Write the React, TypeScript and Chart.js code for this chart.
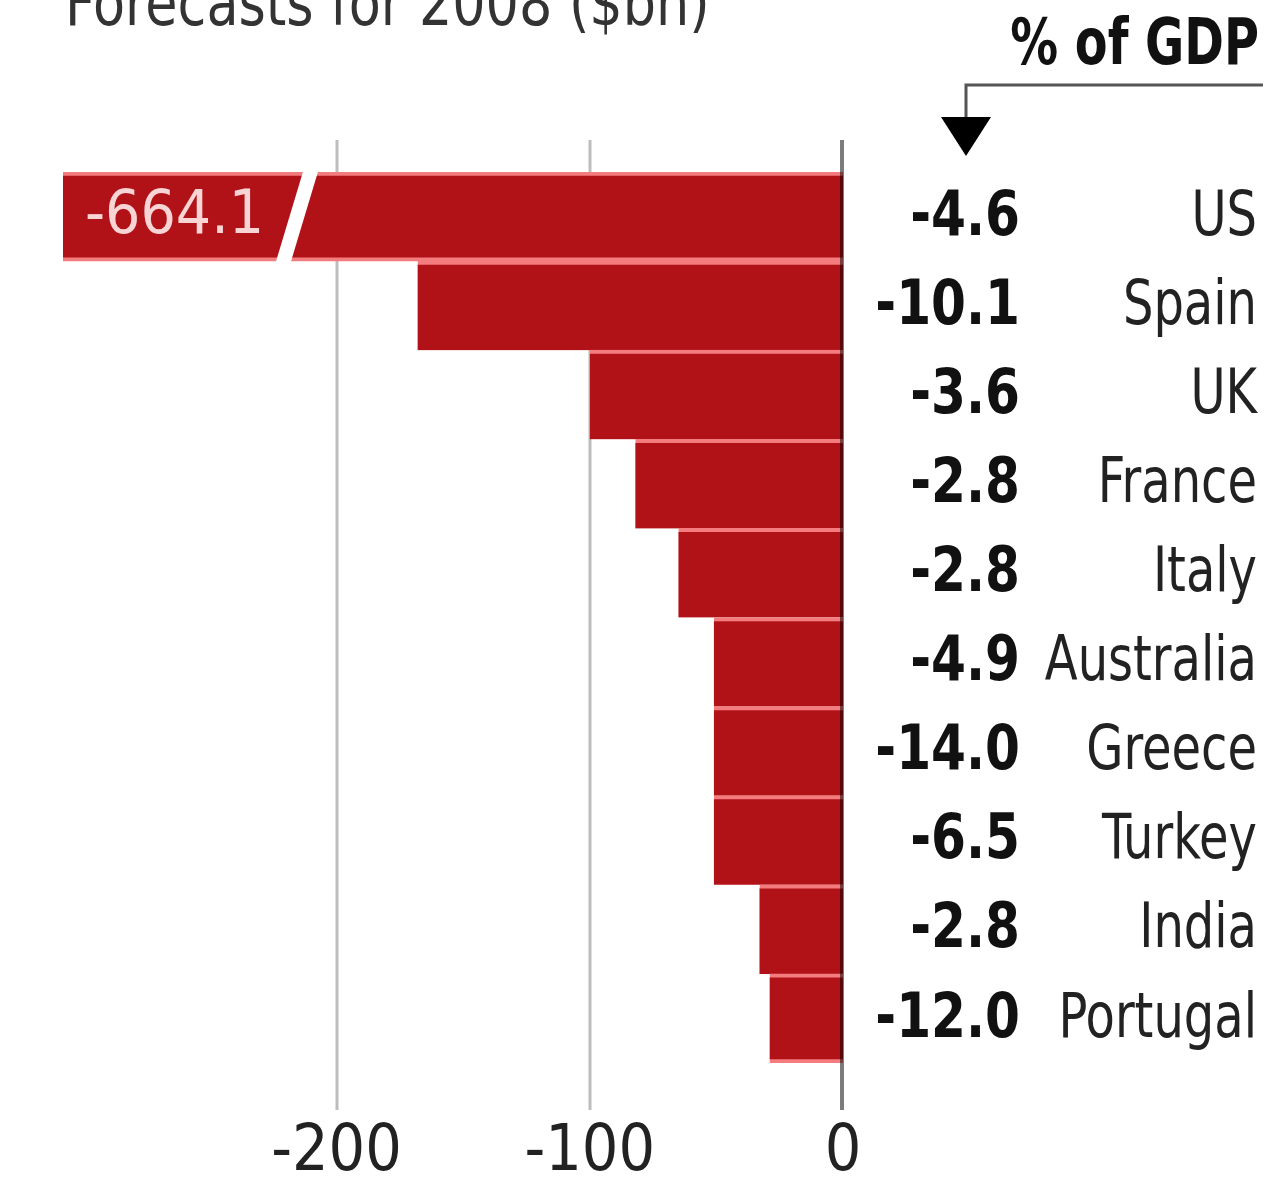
import React, { useEffect, useRef } from "react";
import { Chart, registerables } from "chart.js";

Chart.register(...registerables);

const title = "Forecasts for 2008 ($bn)";
const gdpHeader = "% of GDP";
const countries = ["US", "Spain", "UK", "France", "Italy", "Australia", "Greece", "Turkey", "India", "Portugal"];
const balance = [-664.1, -168, -100, -82, -65, -51, -51, -51, -33, -29];
const gdpPct = ["-4.6", "-10.1", "-3.6", "-2.8", "-2.8", "-4.9", "-14.0", "-6.5", "-2.8", "-12.0"];
const xTicks = [-200, -100, 0];
const axisMin = -308;
const axisMax = 0;
const breakAt = -215;
const brokenLabel = "-664.1";

const FONT = "'Liberation Sans Narrow', 'DejaVu Sans Condensed', 'Arial Narrow', sans-serif";
const BAR = "#b01218";
const SEP = "#f47c7e";

const W = 1265;
const H = 1178;

function squeezeText(ctx: any, text: string, x: number, y: number, align: string, sx: number) {
  ctx.save();
  ctx.translate(x, y);
  ctx.scale(sx, 1);
  ctx.textAlign = align;
  ctx.fillText(text, 0, 0);
  ctx.restore();
}

const overlay = {
  id: "overlay",
  beforeDatasetsDraw(chart: any) {
    const { ctx, chartArea } = chart;
    const x = chart.scales.x;
    ctx.save();
    ctx.strokeStyle = "#bdbdbd";
    ctx.lineWidth = 3;
    xTicks.forEach((v) => {
      if (v === 0) return;
      const px = Math.round(x.getPixelForValue(v));
      ctx.beginPath();
      ctx.moveTo(px, chartArea.top - 32);
      ctx.lineTo(px, chartArea.bottom + 47);
      ctx.stroke();
    });
    ctx.restore();
  },
  afterDatasetsDraw(chart: any) {
    const { ctx, chartArea } = chart;
    const x = chart.scales.x;
    const y = chart.scales.y;
    const band = (chartArea.bottom - chartArea.top) / countries.length;
    ctx.save();
    // zero line
    const zx = Math.round(x.getPixelForValue(0));
    ctx.globalCompositeOperation = "multiply";
    ctx.strokeStyle = "#7c7c7c";
    ctx.lineWidth = 4;
    ctx.beginPath();
    ctx.moveTo(zx - 1, chartArea.top - 32);
    ctx.lineTo(zx - 1, chartArea.bottom + 47);
    ctx.stroke();
    ctx.globalCompositeOperation = "source-over";

    // break slash on the US bar
    const usY = y.getPixelForValue(0);
    const top = usY - band / 2 - 2;
    const bot = usY + band / 2 + 2;
    const xb = x.getPixelForValue(breakAt);
    ctx.fillStyle = "#ffffff";
    ctx.beginPath();
    ctx.moveTo(xb - 23, bot);
    ctx.lineTo(xb - 8, bot);
    ctx.lineTo(xb + 20, top);
    ctx.lineTo(xb + 5, top);
    ctx.closePath();
    ctx.fill();

    // label inside broken bar
    ctx.fillStyle = "#f8d4d4";
    ctx.font = `60px ${FONT}`;
    ctx.textBaseline = "middle";
    squeezeText(ctx, brokenLabel, chartArea.left + 22, usY + 1, "left", 1.03);

    // right-hand labels
    countries.forEach((c, i) => {
      const py = y.getPixelForValue(i) + 2;
      ctx.fillStyle = "#111";
      ctx.font = `bold 62px ${FONT}`;
      squeezeText(ctx, gdpPct[i], 1020, py, "right", 0.9);
      ctx.fillStyle = "#222";
      ctx.font = `62px ${FONT}`;
      squeezeText(ctx, c, 1257, py, "right", 0.86);
    });
    ctx.restore();
  },
  afterDraw(chart: any) {
    const { ctx } = chart;
    ctx.save();
    // title (cropped at top)
    ctx.fillStyle = "#333";
    ctx.font = `64px ${FONT}`;
    ctx.textBaseline = "alphabetic";
    squeezeText(ctx, title, 65, 25, "left", 0.91);
    // header
    ctx.fillStyle = "#111";
    ctx.font = `bold 64px ${FONT}`;
    squeezeText(ctx, gdpHeader, 1259, 64, "right", 0.83);
    // arrow
    ctx.strokeStyle = "#555";
    ctx.lineWidth = 3;
    ctx.beginPath();
    ctx.moveTo(1263, 85);
    ctx.lineTo(966, 85);
    ctx.lineTo(966, 120);
    ctx.stroke();
    ctx.fillStyle = "#000";
    ctx.beginPath();
    ctx.moveTo(941, 117);
    ctx.lineTo(991, 117);
    ctx.lineTo(966, 156);
    ctx.closePath();
    ctx.fill();
    ctx.restore();
  },
};

export default function App() {
  const ref = useRef<HTMLCanvasElement | null>(null);
  useEffect(() => {
    if (!ref.current) return;
    const chart = new Chart(ref.current, {
      type: "bar",
      data: {
        labels: countries,
        datasets: [
          {
            data: balance,
            backgroundColor: BAR,
            borderColor: SEP,
            borderWidth: (c: any) => ({
              top: 4,
              bottom: c.dataIndex === 0 || c.dataIndex === countries.length - 1 ? 4 : 0,
              left: 0,
              right: 0,
            }),
            borderSkipped: false,
            barPercentage: 1,
            categoryPercentage: 1,
          },
        ],
      },
      options: {
        indexAxis: "y",
        animation: false,
        responsive: false,
        maintainAspectRatio: false,
        events: [],
        layout: { padding: { left: 63, right: W - 843, top: 172, bottom: 0 } },
        plugins: { legend: { display: false }, tooltip: { enabled: false } },
        scales: {
          x: {
            type: "linear",
            min: axisMin,
            max: axisMax,
            grid: { display: false, drawTicks: false },
            border: { display: false },
            afterBuildTicks: (s: any) => {
              s.ticks = xTicks.map((v) => ({ value: v }));
            },
            afterFit: (s: any) => {
              s.height = H - 1063;
            },
            ticks: {
              autoSkip: false,
              maxRotation: 0,
              padding: 52,
              color: "#222",
              font: { family: FONT, size: 64 },
              callback: (v: any) => String(v),
            },
          },
          y: { type: "category", display: false },
        },
      },
      plugins: [overlay],
    });
    return () => chart.destroy();
  }, []);
  return (
    <div style={{ position: "fixed", left: 0, top: 0, width: W, height: H, background: "#fff", overflow: "hidden" }}>
      <canvas ref={ref} width={W} height={H} style={{ width: W, height: H, display: "block" }} />
    </div>
  );
}
